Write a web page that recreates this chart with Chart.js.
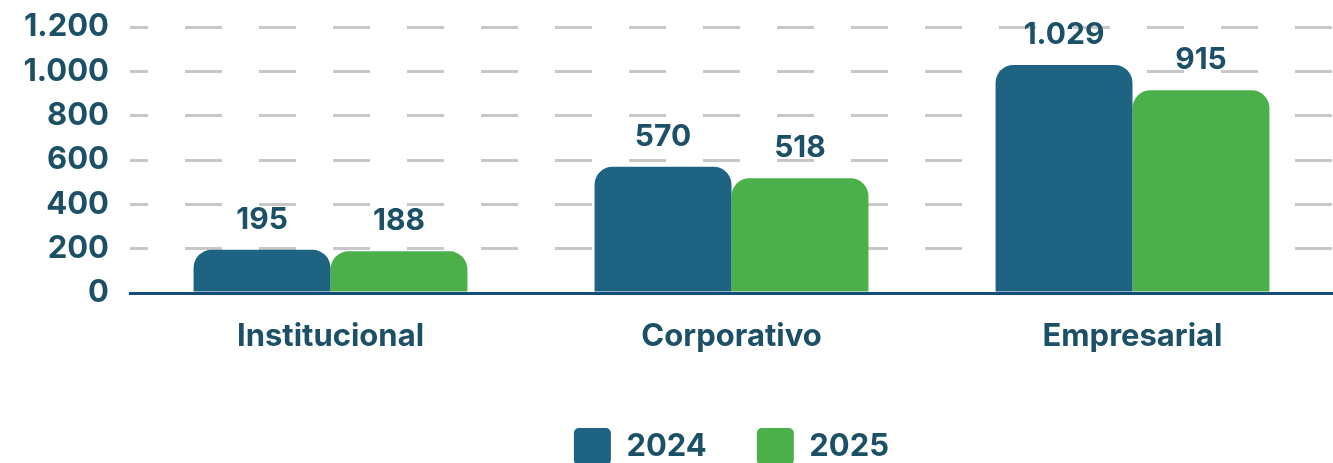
<!DOCTYPE html>
<html>
<head>
<meta charset="utf-8">
<script src="https://cdn.jsdelivr.net/npm/chart.js@4"></script>
<style>
  html, body { margin: 0; padding: 0; background: #fff; overflow: hidden; }
  #wrap { width: 1333px; height: 475px; position: relative; }
</style>
</head>
<body>
<div id="wrap"><canvas id="segmentChart"></canvas></div>
<script>
// Chart data
const categories = ['Institucional', 'Corporativo', 'Empresarial'];
const years = ['2024', '2025'];
const values2024 = [195, 570, 1029];
const values2025 = [188, 518, 915];
const yTicks = [0, 200, 400, 600, 800, 1000, 1200];

const textColor = '#1b5066';
const fontFamily = 'Inter, "Open Sans", sans-serif';

// thousands with a dot, e.g. 1.029
function fmt(v) {
    return String(v).replace(/\B(?=(\d{3})+(?!\d))/g, '.');
}

// simple value labels above the bars
const valueLabels = {
    id: 'valueLabels',
    afterDatasetsDraw(chart) {
        const ctx = chart.ctx;
        ctx.save();
        ctx.fillStyle = textColor;
        ctx.font = '700 30px ' + fontFamily;
        ctx.textAlign = 'center';
        ctx.textBaseline = 'middle';
        chart.data.datasets.forEach((ds, i) => {
            chart.getDatasetMeta(i).data.forEach((bar, j) => {
                ctx.fillText(fmt(ds.data[j]), bar.x, bar.y - 30);
            });
        });
        ctx.restore();
    }
};

document.addEventListener('DOMContentLoaded', function() {
    const ctx = document.getElementById('segmentChart');

    new Chart(ctx, {
        type: 'bar',
        data: {
            labels: categories,
            datasets: [{
                label: years[0],
                data: values2024,
                backgroundColor: '#1e6382',
                borderWidth: 0,
                borderRadius: { topLeft: 18, topRight: 18, bottomLeft: 0, bottomRight: 0 },
                borderSkipped: false
            }, {
                label: years[1],
                data: values2025,
                backgroundColor: '#4bb04a',
                borderWidth: 0,
                borderRadius: { topLeft: 18, topRight: 18, bottomLeft: 0, bottomRight: 0 },
                borderSkipped: false
            }]
        },
        options: {
            responsive: true,
            maintainAspectRatio: false,
            animation: false,
            layout: { padding: { top: 0, right: 0, left: 0, bottom: 0 } },
            barPercentage: 1,
            categoryPercentage: 0.683,
            scales: {
                x: {
                    grid: { display: false, drawTicks: false },
                    border: { display: true, color: '#134e7a', width: 3 },
                    ticks: {
                        color: textColor,
                        padding: 25,
                        font: { family: fontFamily, size: 31, weight: '700' }
                    },
                    afterFit(scale) { scale.height = 85; }
                },
                y: {
                    min: 0,
                    max: 1200,
                    afterBuildTicks(scale) {
                        scale.ticks = yTicks.map(v => ({ value: v }));
                    },
                    grid: {
                        drawTicks: false,
                        lineWidth: 3,
                        color: c => c.tick && c.tick.value === 0 ? 'rgba(0,0,0,0)' : '#c8c8c8'
                    },
                    border: { display: false, dash: [37, 37], dashOffset: 19 },
                    ticks: {
                        color: textColor,
                        padding: 21,
                        font: { family: fontFamily, size: 31, weight: '700' },
                        callback: v => fmt(v)
                    },
                    afterFit(scale) {
                        scale.width = 130;
                        scale.paddingTop = 27;
                        scale.paddingBottom = 0;
                    }
                }
            },
            plugins: {
                legend: {
                    position: 'bottom',
                    fullSize: false,
                    labels: {
                        color: textColor,
                        boxWidth: 37,
                        boxHeight: 37,
                        padding: 50,
                        useBorderRadius: true,
                        borderRadius: 5,
                        font: { family: fontFamily, size: 31, weight: '700' }
                    }
                },
                tooltip: { enabled: false }
            }
        },
        plugins: [valueLabels]
    });
});
</script>
</body>
</html>
